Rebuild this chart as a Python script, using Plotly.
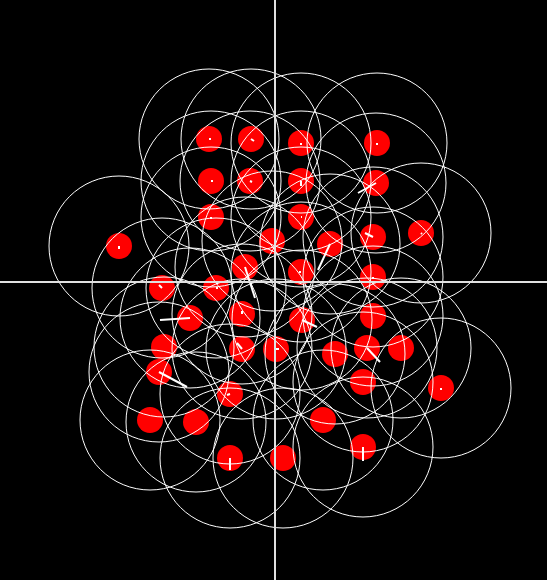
import plotly.graph_objects as go

# boid positions (centered coordinates, y up)
pos_x = [-66, -24, 26, 102, -64, -25, 26, 101, -64, 26, 146, -156, -3, 55, 98, -30, 26, 98,
         -113, -59, -85, -33, 27, 98, -111, -33, 1, 60, 92, 126, -116, 88, 166, -45, -125,
         -79, 48, -45, 8, 88]
pos_y = [143, 143, 139, 139, 101, 101, 101, 99, 65, 65, 49, 36, 41, 38, 45, 15, 10, 5,
         -6, -6, -36, -32, -38, -34, -65, -67, -67, -72, -66, -66, -90, -100, -106, -112, -138,
         -140, -138, -176, -176, -165]
# velocity vectors
vel_x = [2, 3, 0, 0, 2, 2, 0, -18, 0, 1, 1, 0, 0, -12, -8, 10, -2, 0,
         -3, 2, -30, 0, 15, 0, 0, -5, 3, 0, 13, 0, 28, 0, 0, -3, 0,
         0, 0, 0, 0, 0]
vel_y = [0, -2, -2, -2, 0, -1, -5, -10, -2, 0, -1, -3, 0, -26, 4, -31, 0, -2,
         3, 0, -2, 3, -7, 0, 0, 6, 0, 0, -14, 0, -15, 0, -2, -1, 0,
         0, 0, -12, 0, -14]

NEIGH_R = 70

fig = go.Figure()
fig.add_trace(go.Scatter(
    x=pos_x, y=pos_y, mode="markers",
    marker=dict(size=26, color="#ff0000", line=dict(width=0)),
    hoverinfo="skip", showlegend=False))

shapes = []
for x, y in zip(pos_x, pos_y):
    shapes.append(dict(type="circle", xref="x", yref="y", layer="above",
                       x0=x - NEIGH_R, x1=x + NEIGH_R, y0=y - NEIGH_R, y1=y + NEIGH_R,
                       line=dict(color="white", width=1)))
for x, y, vx, vy in zip(pos_x, pos_y, vel_x, vel_y):
    if vx == 0 and vy == 0:
        continue
    shapes.append(dict(type="line", xref="x", yref="y", layer="above",
                       x0=x, y0=y, x1=x + vx, y1=y + vy,
                       line=dict(color="white", width=2)))
# axes
shapes.append(dict(type="line", xref="x", yref="paper", layer="above",
                   x0=0, x1=0, y0=0, y1=1, line=dict(color="#e0e0e0", width=2)))
shapes.append(dict(type="line", xref="paper", yref="y", layer="above",
                   x0=0, x1=1, y0=0, y1=0, line=dict(color="#e0e0e0", width=2)))

fig.update_layout(
    width=547, height=580, margin=dict(l=0, r=0, t=0, b=0),
    paper_bgcolor="black", plot_bgcolor="black",
    shapes=shapes,
    xaxis=dict(range=[-275, 272], showgrid=False, zeroline=False, showticklabels=False,
               fixedrange=True),
    yaxis=dict(range=[-298, 282], showgrid=False, zeroline=False, showticklabels=False,
               fixedrange=True),
)
fig.write_html("out.html")
